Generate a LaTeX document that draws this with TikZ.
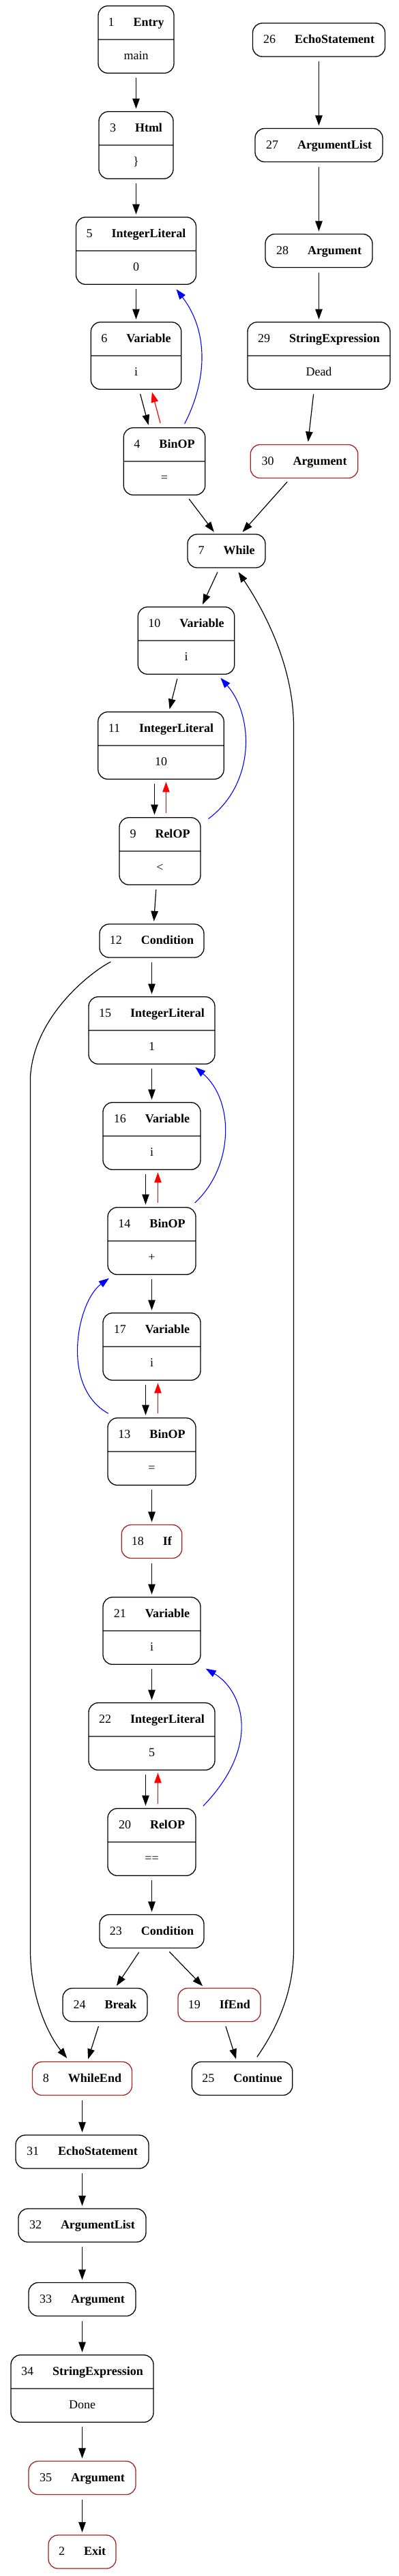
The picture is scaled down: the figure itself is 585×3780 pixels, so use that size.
\documentclass[tikz,border=0pt]{standalone}
\usepackage{fontspec}
\setmainfont{Liberation Serif}
\usetikzlibrary{arrows.meta,shapes.multipart,calc}
\definecolor{nodered}{RGB}{165,35,35}
\newcommand\vs{\rule[-19pt]{0pt}{48pt}}
\newcommand\hd[2]{\vs#1\hspace{28pt}\textbf{#2}}
\tikzset{
  box/.style={draw, line width=1.3pt, rounded corners=14pt, inner xsep=8pt, inner ysep=0pt,
    minimum height=49pt, font=\fontsize{18}{21.6}\selectfont},
  redbox/.style={box, draw=nodered},
  box2/.style={box, rectangle split, rectangle split parts=2, minimum height=0pt},
  tip/.style={-{Triangle[length=15pt,width=10.5pt]}},
  flow/.style={tip, line width=1.2pt, shorten <=6.5pt, shorten >=3.5pt},
  dep/.style={flow, red},
  curve/.style={tip, line width=1.2pt},
  use/.style={tip, line width=1.1pt, blue}
}
\begin{document}
\begin{tikzpicture}[x=1pt,y=-1pt]
\path[use as bounding box, fill=white] (0,0) rectangle (585,3780);
% left column
\node[box2, minimum width=111pt] (n1) at (199.5,58) {\hd{1}{Entry}\nodepart{two}\vs main};
\node[box2, minimum width=109pt] (n3) at (199.5,213) {\hd{3}{Html}\nodepart{two}\vs \}};
\node[box2, minimum width=176pt] (n5) at (199.5,368) {\hd{5}{IntegerLiteral}\nodepart{two}\vs 0};
\node[box2, minimum width=132.5pt] (n6) at (199.5,522) {\hd{6}{Variable}\nodepart{two}\vs i};
\node[box2, minimum width=119.5pt] (n4) at (241,677) {\hd{4}{BinOP}\nodepart{two}\vs =};
% right column
\node[box, minimum width=194pt] (n26) at (467.5,58.5) {\hd{26}{EchoStatement}};
\node[box, minimum width=187pt] (n27) at (467.5,213) {\hd{27}{ArgumentList}};
\node[box, minimum width=157pt] (n28) at (467.5,368) {\hd{28}{Argument}};
\node[box2, minimum width=209pt] (n29) at (467.5,522) {\hd{29}{StringExpression}\nodepart{two}\vs Dead};
\node[redbox, minimum width=157.5pt] (n30) at (446,677) {\hd{30}{Argument}};
% loop
\node[box, minimum width=114pt] (n7) at (332,808.5) {\hd{7}{While}};
\node[box2, minimum width=141.5pt] (n10) at (273,940) {\hd{10}{Variable}\nodepart{two}\vs i};
\node[box2, minimum width=184.4pt] (n11) at (236,1094) {\hd{11}{IntegerLiteral}\nodepart{two}\vs 10};
\node[box2, minimum width=119pt] (n9) at (234.5,1249) {\hd{9}{RelOP}\nodepart{two}\vs <};
\node[box, minimum width=153pt] (n12) at (222.5,1380.5) {\hd{12}{Condition}};
\node[box2, minimum width=185pt] (n15) at (222.5,1512) {\hd{15}{IntegerLiteral}\nodepart{two}\vs 1};
\node[box2, minimum width=143pt] (n16) at (222.5,1667) {\hd{16}{Variable}\nodepart{two}\vs i};
\node[box2, minimum width=129pt] (n14) at (222.5,1821) {\hd{14}{BinOP}\nodepart{two}\vs +};
\node[box2, minimum width=143pt] (n17) at (222.5,1976) {\hd{17}{Variable}\nodepart{two}\vs i};
\node[box2, minimum width=129pt] (n13) at (222.5,2130) {\hd{13}{BinOP}\nodepart{two}\vs =};
\node[redbox, minimum width=88.6pt] (n18) at (222.5,2262) {\hd{18}{If}};
\node[box2, minimum width=143pt] (n21) at (222.5,2393) {\hd{21}{Variable}\nodepart{two}\vs i};
\node[box2, minimum width=185pt] (n22) at (222.5,2548) {\hd{22}{IntegerLiteral}\nodepart{two}\vs 5};
\node[box2, minimum width=129pt] (n20) at (222.5,2703) {\hd{20}{RelOP}\nodepart{two}\vs ==};
\node[box, minimum width=153pt] (n23) at (222.5,2834) {\hd{23}{Condition}};
\node[box, minimum width=124pt] (n24) at (154,2942) {\hd{24}{Break}};
\node[redbox, minimum width=121pt] (n19) at (321.5,2942) {\hd{19}{IfEnd}};
\node[redbox, minimum width=146pt] (n8) at (120.5,3050) {\hd{8}{WhileEnd}};
\node[box, minimum width=147.6pt] (n25) at (355,3050) {\hd{25}{Continue}};
% tail
\node[box, minimum width=195pt] (n31) at (120.5,3157.5) {\hd{31}{EchoStatement}};
\node[box, minimum width=187pt] (n32) at (120.5,3265.5) {\hd{32}{ArgumentList}};
\node[box, minimum width=157pt] (n33) at (120.5,3374) {\hd{33}{Argument}};
\node[box2, minimum width=209pt] (n34) at (120.5,3505) {\hd{34}{StringExpression}\nodepart{two}\vs Done};
\node[redbox, minimum width=157pt] (n35) at (120.5,3636) {\hd{35}{Argument}};
\node[redbox, minimum width=99pt] (n2) at (120.5,3744.5) {\hd{2}{Exit}};

% control flow, data dependencies (red) and uses (blue)
\draw[flow] (n1.south) -- (n3.north);
\draw[flow] (n3.south) -- (n5.north);
\draw[flow] (n5.south) -- (n6.north);
\draw[flow] ($(n6.south)+(4.5,0)$) -- ($(n4.north)+(-22.4,0)$);
\draw[dep] ($(n4.north)+(-4.2,0)$) -- ($(n6.south)+(22.5,0)$);
\draw[use] ($(n4.north)+(29.7,-5.3)$) .. controls (305,555) and (305,485) .. ($(n5.south)+(59,6.4)$);
\draw[flow] ($(n4.south)+(32.2,0)$) -- ($(n7.north)+(-16,0)$);
\draw[flow] (n26.south) -- (n27.north);
\draw[flow] (n27.south) -- (n28.north);
\draw[flow] (n28.south) -- (n29.north);
\draw[flow] ($(n29.south)+(-7.1,0)$) -- ($(n30.north)+(5.3,0)$);
\draw[flow] ($(n30.south)+(-20.5,0)$) -- ($(n7.north)+(21.2,0)$);
\draw[flow] ($(n7.south)+(-10.3,0)$) -- ($(n10.north)+(22.5,0)$);
\draw[flow] ($(n10.south)+(-11.6,0)$) -- ($(n11.north)+(11.7,0)$);
\draw[flow] ($(n11.south)+(-9.5,0)$) -- ($(n9.north)+(-8,0)$);
\draw[dep] ($(n9.north)+(9,0)$) -- ($(n11.south)+(7.5,0)$);
\draw[use] ($(n9.north east)+(10.8,2.5)$) .. controls (375,1150) and (372,1050) .. ($(n10.south east)+(-21,4.8)$);
\draw[flow] ($(n9.south)+(-5.3,0)$) -- ($(n12.north)+(2.9,0)$);
\draw[flow] (n12.south) -- (n15.north);
\draw[flow] (n15.south) -- (n16.north);
\draw[flow] ($(n16.south)+(-9,0)$) -- ($(n14.north)+(-9,0)$);
\draw[dep] ($(n14.north)+(9,0)$) -- ($(n16.south)+(9,0)$);
\draw[use] ($(n14.north east)+(-2,-6)$) .. controls (343,1712) and (344,1615) .. ($(n15.south east)+(-29.3,4)$);
\draw[flow] (n14.south) -- (n17.north);
\draw[flow] ($(n17.south)+(-9,0)$) -- ($(n13.north)+(-9,0)$);
\draw[dep] ($(n13.north)+(9,0)$) -- ($(n17.south)+(9,0)$);
\draw[use] ($(n13.north west)+(1.4,-6)$) .. controls (88,2035) and (113,1910) .. ($(n14.south west)+(2.5,4.7)$);
\draw[flow] (n13.south) -- (n18.north);
\draw[flow] (n18.south) -- (n21.north);
\draw[flow] (n21.south) -- (n22.north);
\draw[flow] ($(n22.south)+(-9,0)$) -- ($(n20.north)+(-9,0)$);
\draw[dep] ($(n20.north)+(9,0)$) -- ($(n22.south)+(9,0)$);
\draw[use] ($(n20.north east)+(10.3,-3)$) .. controls (385,2560) and (355,2480) .. ($(n21.south east)+(7,5.5)$);
\draw[flow] (n20.south) -- (n23.north);
\draw[flow] ($(n23.south)+(-15.1,0)$) -- ($(n24.north)+(14.9,0)$);
\draw[flow] ($(n23.south)+(21.2,0)$) -- ($(n19.north)+(-22,0)$);
\draw[flow] ($(n24.south)+(-7.6,0)$) -- ($(n8.north)+(7.5,0)$);
\draw[flow] ($(n19.south)+(7.5,0)$) -- ($(n25.north)+(-7.8,0)$);
% loop exit and back edge
\draw[curve] ($(n12.south)+(-60.1,5.7)$) .. controls (135,1425) and (50,1490) .. (44.5,1580)
  -- (44.5,2861) .. controls (44.5,2930) and (70,2985) .. ($(n8.north)+(-22.3,-4.8)$);
\draw[curve] ($(n25.north)+(21.8,-6.5)$) .. controls (400,2985) and (430.5,2930) .. (430.5,2861)
  -- (430.5,1066) .. controls (430.5,980) and (390,900) .. ($(n7.south)+(17.5,5.75)$);
% tail
\draw[flow] (n8.south) -- (n31.north);
\draw[flow] (n31.south) -- (n32.north);
\draw[flow] (n32.south) -- (n33.north);
\draw[flow] (n33.south) -- (n34.north);
\draw[flow] (n34.south) -- (n35.north);
\draw[flow] (n35.south) -- (n2.north);
\end{tikzpicture}
\end{document}
